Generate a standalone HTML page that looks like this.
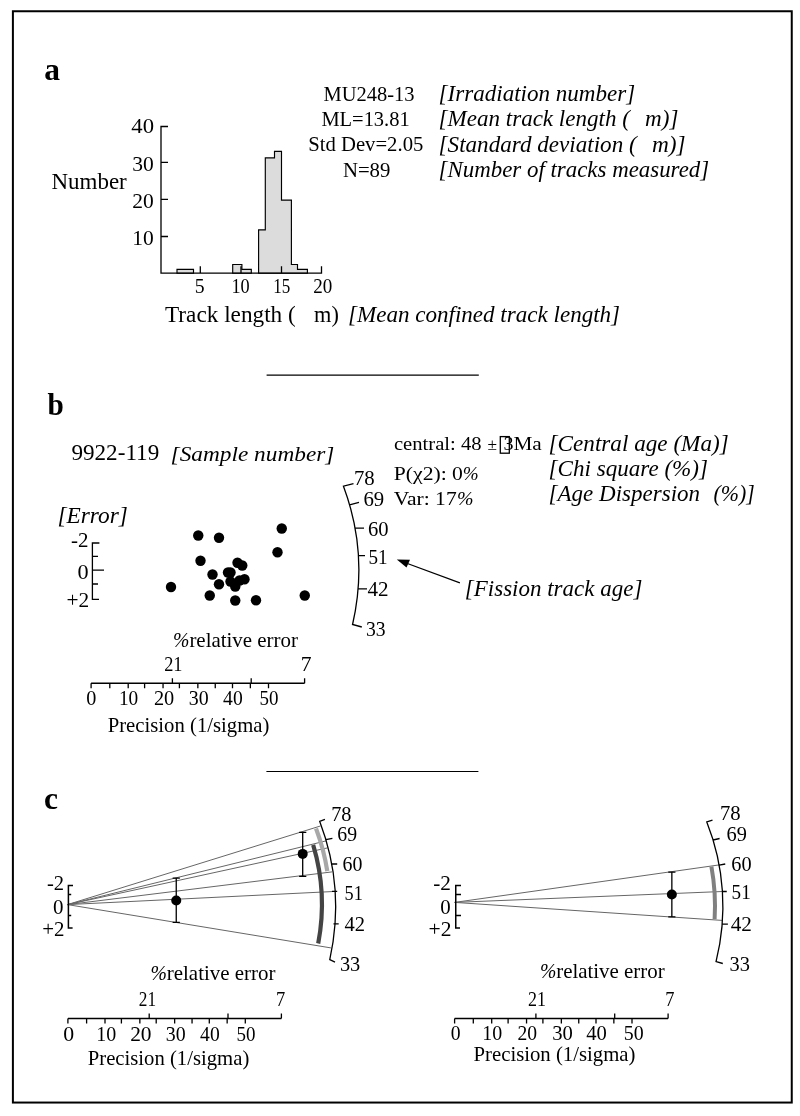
<!DOCTYPE html>
<html><head><meta charset="utf-8">
<style>
html,body{margin:0;padding:0;background:#fff;}
body{width:800px;height:1116px;overflow:hidden;font-family:"Liberation Serif",serif;}
svg{display:block;will-change:transform;}
text{font-family:"Liberation Serif",serif;fill:#000;white-space:pre;}
.i{font-style:italic;}
.b{font-weight:bold;}
.ax{stroke:#000;stroke-width:1.3;fill:none;}
.ray{stroke:#666;stroke-width:1;fill:none;}
</style></head><body>
<svg width="800" height="1116" viewBox="0 0 800 1116">
<rect x="0" y="0" width="800" height="1116" fill="#fff"/>
<rect x="12.9" y="11.25" width="778.85" height="1091.3" fill="none" stroke="#000" stroke-width="2"/>
<text class="b" font-size="31" transform="translate(44.15,79.75) scale(1.0161,1)">a</text>
<text font-size="23.5" transform="translate(51.40,189.00) scale(0.9792,1)">Number</text>
<text font-size="21" transform="translate(131.30,133.10) scale(1.0810,1)">40</text>
<text font-size="21" transform="translate(132.20,170.50) scale(1.0238,1)">30</text>
<text font-size="21" transform="translate(132.20,207.50) scale(1.0238,1)">20</text>
<text font-size="21" transform="translate(132.20,244.50) scale(1.0238,1)">10</text>
<text font-size="21" transform="translate(194.80,292.60) scale(0.9429,1)">5</text>
<text font-size="21" transform="translate(231.40,292.60) scale(0.8714,1)">10</text>
<text font-size="21" transform="translate(273.20,292.60) scale(0.8143,1)">15</text>
<text font-size="21" transform="translate(313.20,292.60) scale(0.9095,1)">20</text>
<path d="M177,273.2V269.4H193.5V273.2Z M232.7,273.2V264.5H241.9V269.4H251.3V273.2Z M258.6,273.2V229.8H265.3V157.9H274.5V151.3H281.5V200.1H291.4V264.5H297.5V269.4H307.4V273.2Z" fill="#dcdcdc" stroke="#000" stroke-width="1.15"/>
<path class="ax" d="M168,126.5H161V273.2H321.5V266.3 M161,162.4H168 M161,199.4H168 M161,236.5H168 M200.3,273.2V266.3 M241,273.2V266.3 M281.5,273.2V266.3"/>
<text font-size="21.5" transform="translate(323.60,100.80) scale(0.9523,1)">MU248-13</text>
<text font-size="21.5" transform="translate(321.40,126.40) scale(0.9520,1)">ML=13.81</text>
<text font-size="21.5" transform="translate(308.20,151.30) scale(0.9630,1)">Std Dev=2.05</text>
<text font-size="21.5" transform="translate(342.90,176.70) scale(0.9669,1)">N=89</text>
<text class="i" font-size="22.5" transform="translate(438.60,101.00) scale(1.0251,1)">[Irradiation number]</text>
<text class="i" font-size="22.5" transform="translate(438.60,126.40) scale(1.0239,1)">[Mean track length (</text>
<text class="i" font-size="22.5" transform="translate(645.10,126.40) scale(1.0277,1)">m)]</text>
<text class="i" font-size="22.5" transform="translate(438.60,151.70) scale(1.0275,1)">[Standard deviation (</text>
<text class="i" font-size="22.5" transform="translate(652.00,151.70) scale(1.0369,1)">m)]</text>
<text class="i" font-size="22.5" transform="translate(438.60,176.90) scale(1.0177,1)">[Number of tracks measured]</text>
<text font-size="23" transform="translate(165.00,321.60) scale(1.0105,1)">Track length (</text>
<text font-size="23" transform="translate(314.10,321.60) scale(0.9702,1)">m)</text>
<text class="i" font-size="23" transform="translate(348.00,322.30) scale(1.0033,1)">[Mean confined track length]</text>
<line x1="266.6" y1="375.2" x2="478.8" y2="375.2" stroke="#000" stroke-width="1.2"/>
<line x1="266.4" y1="771.5" x2="478.4" y2="771.5" stroke="#000" stroke-width="1.2"/>
<text class="b" font-size="31" transform="translate(47.40,415.00) scale(0.9449,1)">b</text>
<text font-size="23" transform="translate(71.40,460.40) scale(1.0067,1)">9922-119</text>
<text class="i" font-size="22" transform="translate(170.60,460.90) scale(1.0600,1)">[Sample number]</text>
<text font-size="19.3" transform="translate(393.90,450.00) scale(1.0699,1)">central: 48</text>
<text font-size="17" transform="translate(487.60,450.00) scale(1.0201,1)">±</text>
<text font-size="19.3" transform="translate(503.40,450.00) scale(1.0426,1)">3</text>
<text font-size="19.3" transform="translate(513.40,450.00) scale(1.1010,1)">Ma</text>
<rect x="500.3" y="436.6" width="9" height="16.6" fill="none" stroke="#000" stroke-width="1.3"/>
<text font-size="19.3" transform="translate(393.80,480.25) scale(1.1218,1)">P(χ2): 0</text>
<text class="i" font-size="19.3" transform="translate(462.70,480.25) scale(0.9899,1)">%</text>
<text font-size="19.3" transform="translate(393.80,505.20) scale(1.1179,1)">Var: 17</text>
<text class="i" font-size="19.3" transform="translate(457.10,505.20) scale(1.0272,1)">%</text>
<text class="i" font-size="22.5" transform="translate(548.60,451.00) scale(1.0297,1)">[Central age (Ma)]</text>
<text class="i" font-size="22.5" transform="translate(548.60,476.00) scale(1.0261,1)">[Chi square (%)]</text>
<text class="i" font-size="22.5" transform="translate(548.60,501.00) scale(1.0228,1)">[Age Dispersion</text>
<text class="i" font-size="22.5" transform="translate(713.40,501.00) scale(0.9718,1)">(%)]</text>
<text class="i" font-size="22.5" transform="translate(57.40,522.70) scale(1.0377,1)">[Error]</text>
<text font-size="20" transform="translate(71.00,547.00) scale(1.0487,1)">-2</text>
<text font-size="20" transform="translate(77.40,579.20) scale(1.1100,1)">0</text>
<text font-size="20" transform="translate(66.40,606.60) scale(1.0682,1)">+2</text>
<path class="ax" d="M99.4,543H92.4V599.4H99 M92.4,556.4H98 M92.4,570.2H104 M92.4,584H98"/>
<g fill="#000"><circle cx="171" cy="587" r="5.2"/><circle cx="198.25" cy="535.5" r="5.2"/><circle cx="219" cy="537.75" r="5.2"/><circle cx="200.5" cy="560.75" r="5.2"/><circle cx="281.75" cy="528.5" r="5.2"/><circle cx="277.5" cy="552.25" r="5.2"/><circle cx="212.5" cy="574.5" r="5.2"/><circle cx="219" cy="584.25" r="5.2"/><circle cx="209.75" cy="595.5" r="5.2"/><circle cx="235.25" cy="600.5" r="5.2"/><circle cx="256" cy="600.25" r="5.2"/><circle cx="304.75" cy="595.5" r="5.2"/><circle cx="237.5" cy="562.75" r="5.2"/><circle cx="242.25" cy="565.5" r="5.2"/><circle cx="228" cy="572.5" r="5.2"/><circle cx="230.5" cy="572.5" r="5.2"/><circle cx="244.5" cy="579.25" r="5.2"/><circle cx="239.5" cy="580.5" r="5.2"/><circle cx="230.5" cy="581.5" r="5.2"/><circle cx="235.25" cy="586.5" r="5.2"/></g>
<path class="ax" d="M353.50,483.60L343.46,486.20A240.70,240.70 0 0 1 352.56,624.50L361.80,627.00M349.56,504.80L359.00,502.30M354.95,528.20L364.00,528.20M358.24,555.60L365.00,555.60M358.00,588.80L367.00,588.80"/>
<text font-size="20" transform="translate(353.90,484.50) scale(1.0400,1)">78</text>
<text font-size="20" transform="translate(363.40,505.50) scale(1.0400,1)">69</text>
<text font-size="20" transform="translate(367.90,535.50) scale(1.0300,1)">60</text>
<text font-size="20" transform="translate(368.40,563.80) scale(0.9550,1)">51</text>
<text font-size="20" transform="translate(367.40,595.80) scale(1.0550,1)">42</text>
<text font-size="20" transform="translate(365.90,635.50) scale(0.9800,1)">33</text>
<line x1="404" y1="562.3" x2="459.9" y2="582.9" stroke="#000" stroke-width="1.2"/>
<path d="M396.8,559.4L410,559.8L406.5,567.5Z" fill="#000"/>
<text class="i" font-size="22.5" transform="translate(464.80,596.30) scale(1.0222,1)">[Fission track age]</text>
<path class="ax" d="M91.1,683.25H304.6M91.10,683.25v5M109.80,683.25v5M128.20,683.25v5M144.60,683.25v5M163.05,683.25v5M179.40,683.25v5M197.85,683.25v5M215.25,683.25v5M232.50,683.25v5M250.35,683.25v5M268.50,683.25v5M172.40,683.25v-5M251.20,683.25v-5M304.60,683.25v-5"/>
<text class="i" font-size="21" transform="translate(173.10,646.60) scale(0.9371,1)">%</text>
<text font-size="21" transform="translate(189.40,646.60) scale(0.9963,1)">relative error</text>
<text font-size="21" transform="translate(164.15,671.30) scale(0.8738,1)">21</text>
<text font-size="21" transform="translate(300.80,671.30) scale(1.0286,1)">7</text>
<text font-size="21" transform="translate(86.15,704.50) scale(0.9619,1)">0</text>
<text font-size="21" transform="translate(118.90,704.50) scale(0.9214,1)">10</text>
<text font-size="21" transform="translate(153.90,704.50) scale(0.9690,1)">20</text>
<text font-size="21" transform="translate(188.70,704.50) scale(0.9476,1)">30</text>
<text font-size="21" transform="translate(223.10,704.50) scale(0.9333,1)">40</text>
<text font-size="21" transform="translate(259.50,704.50) scale(0.9048,1)">50</text>
<text font-size="21" transform="translate(107.70,731.50) scale(0.9867,1)">Precision (1/sigma)</text>
<text class="b" font-size="31" transform="translate(43.90,809.00) scale(1.0182,1)">c</text>
<path class="ray" d="M67.5,904.6L320.4,826M67.5,904.6L326.5,840.75M67.5,904.6L327.5,847.9M67.5,904.6L332,871.9M67.5,904.6L335.6,891.4M67.5,904.6L330.9,947.9"/>
<path d="M316.02,828.40A215.50,215.50 0 0 1 327.30,871.10" stroke="#a8a8a8" stroke-width="4.2" fill="none"/>
<path d="M313.16,844.90A207.50,207.50 0 0 1 318.20,943.50" stroke="#444" stroke-width="4.2" fill="none"/>
<path class="ax" d="M324.90,819.40L319.67,821.30A241.50,241.50 0 0 1 329.77,959.60L335.00,962.20M325.85,839.70L332.40,838.30M331.59,864.00L337.20,864.00M332,891.4H337.2M333.5,923.9H338.7"/>
<path class="ax" style="stroke-width:1.5" d="M73,885.4H68.4V928.1H72.6 M68.4,894.4H71.2 M68.4,915.4H71.2"/>
<path class="ax" d="M176.25,878.2V922.45M172.65,878.2h7.2M172.65,922.45h7.2"/><circle cx="176.25" cy="900.5" r="5" fill="#000"/>
<path class="ax" d="M302.7,832.3V876.3M299.09999999999997,832.3h7.2M299.09999999999997,876.3h7.2"/><circle cx="302.7" cy="853.9" r="5" fill="#000"/>
<text font-size="20" transform="translate(46.90,889.90) scale(1.0307,1)">-2</text>
<text font-size="20" transform="translate(52.90,913.50) scale(1.0500,1)">0</text>
<text font-size="20" transform="translate(42.25,936.00) scale(1.0471,1)">+2</text>
<text font-size="20" transform="translate(331.15,820.50) scale(1.0175,1)">78</text>
<text font-size="20" transform="translate(337.30,841.00) scale(0.9900,1)">69</text>
<text font-size="20" transform="translate(342.50,871.30) scale(0.9950,1)">60</text>
<text font-size="20" transform="translate(344.60,899.80) scale(0.9150,1)">51</text>
<text font-size="20" transform="translate(344.60,931.30) scale(1.0275,1)">42</text>
<text font-size="20" transform="translate(339.90,970.60) scale(1.0175,1)">33</text>
<path class="ax" d="M67.9,1018.5H281.4M67.90,1018.5v5M86.60,1018.5v5M105.00,1018.5v5M121.40,1018.5v5M139.85,1018.5v5M156.20,1018.5v5M174.65,1018.5v5M192.05,1018.5v5M209.30,1018.5v5M227.15,1018.5v5M245.30,1018.5v5M149.20,1018.5v-5M228.00,1018.5v-5M281.40,1018.5v-5"/>
<text class="i" font-size="21" transform="translate(150.50,979.90) scale(0.9371,1)">%</text>
<text font-size="21" transform="translate(166.80,979.90) scale(0.9963,1)">relative error</text>
<text font-size="21" transform="translate(138.80,1005.80) scale(0.8238,1)">21</text>
<text font-size="21" transform="translate(275.90,1005.80) scale(0.8810,1)">7</text>
<text font-size="21" transform="translate(63.20,1040.70) scale(1.0381,1)">0</text>
<text font-size="21" transform="translate(96.30,1040.70) scale(0.9524,1)">10</text>
<text font-size="21" transform="translate(130.15,1040.70) scale(1.0214,1)">20</text>
<text font-size="21" transform="translate(165.70,1040.70) scale(0.9476,1)">30</text>
<text font-size="21" transform="translate(200.10,1040.70) scale(0.9333,1)">40</text>
<text font-size="21" transform="translate(236.50,1040.70) scale(0.9048,1)">50</text>
<text font-size="21" transform="translate(87.75,1064.50) scale(0.9864,1)">Precision (1/sigma)</text>
<path class="ray" d="M454.6,902.4L719.3,864.9M454.6,902.4L722.4,891.5M454.6,902.4L721.9,920.4"/>
<path d="M711.42,866.60A219.70,219.70 0 0 1 714.61,919.25" stroke="#808080" stroke-width="4" fill="none"/>
<path class="ax" d="M712.50,820.10L706.79,822.00A227.60,227.60 0 0 1 716.03,961.60L722.80,963.50M713.09,840.00L719.60,838.50M719.18,865.10L725.25,864.00M722.43,891.50L726.75,891.50M722.19,924.10L727.90,924.10"/>
<path class="ax" style="stroke-width:1.5" d="M461,885.4H455.75V928.1H460 M455.75,894.4H461 M455.75,915.4H461"/>
<path class="ax" d="M671.85,872.1V916.9M668.25,872.1h7.2M668.25,916.9h7.2"/><circle cx="671.85" cy="894.5" r="5" fill="#000"/>
<text font-size="20" transform="translate(433.25,889.90) scale(1.0637,1)">-2</text>
<text font-size="20" transform="translate(440.15,913.50) scale(1.0450,1)">0</text>
<text font-size="20" transform="translate(428.50,936.00) scale(1.0776,1)">+2</text>
<text font-size="20" transform="translate(719.90,820.10) scale(1.0350,1)">78</text>
<text font-size="20" transform="translate(726.55,840.60) scale(1.0175,1)">69</text>
<text font-size="20" transform="translate(731.30,870.90) scale(1.0150,1)">60</text>
<text font-size="20" transform="translate(731.60,899.40) scale(0.9575,1)">51</text>
<text font-size="20" transform="translate(730.75,930.90) scale(1.0625,1)">42</text>
<text font-size="20" transform="translate(729.50,971.15) scale(1.0200,1)">33</text>
<path class="ax" d="M454.6,1018.5H668.1M454.60,1018.5v5M473.30,1018.5v5M491.70,1018.5v5M508.10,1018.5v5M526.55,1018.5v5M542.90,1018.5v5M561.35,1018.5v5M578.75,1018.5v5M596.00,1018.5v5M613.85,1018.5v5M632.00,1018.5v5M535.90,1018.5v-5M614.70,1018.5v-5M668.10,1018.5v-5"/>
<text class="i" font-size="21" transform="translate(539.90,977.60) scale(0.9371,1)">%</text>
<text font-size="21" transform="translate(556.20,977.60) scale(0.9959,1)">relative error</text>
<text font-size="21" transform="translate(528.10,1005.60) scale(0.8571,1)">21</text>
<text font-size="21" transform="translate(665.30,1005.60) scale(0.8762,1)">7</text>
<text font-size="21" transform="translate(450.80,1040.10) scale(0.9381,1)">0</text>
<text font-size="21" transform="translate(482.30,1040.10) scale(0.9500,1)">10</text>
<text font-size="21" transform="translate(517.40,1040.10) scale(0.9333,1)">20</text>
<text font-size="21" transform="translate(552.20,1040.10) scale(0.9810,1)">30</text>
<text font-size="21" transform="translate(586.30,1040.10) scale(0.9810,1)">40</text>
<text font-size="21" transform="translate(623.70,1040.10) scale(0.9476,1)">50</text>
<text font-size="21" transform="translate(473.50,1061.30) scale(0.9886,1)">Precision (1/sigma)</text>
</svg>
</body></html>
